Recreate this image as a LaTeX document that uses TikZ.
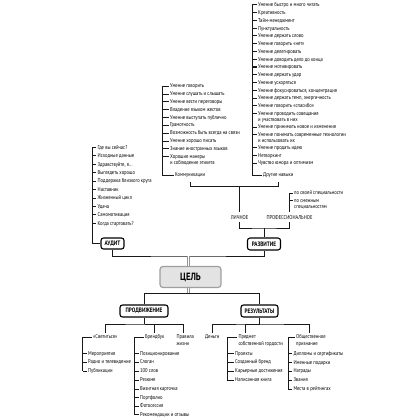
\documentclass[tikz,border=0pt]{standalone}
\usepackage{fontspec}
\setmainfont{PT Sans}[FakeStretch=0.82]
\newcommand\twolines[2]{\vtop{\hbox{#1}\hbox{#2}}}
\begin{document}
\begin{tikzpicture}[x=1pt,y=-1pt,
  itm/.style={anchor=base west, inner sep=0pt, font=\fontsize{5.6}{6.3}\selectfont},
  upc/.style={anchor=center, inner sep=0pt, font=\fontsize{5.6}{6.5}\selectfont},
  brk/.style={line width=0.7pt, black!90},
  tck/.style={line width=1pt, black!90},
  bx/.style={draw, line width=1.1pt, rounded corners=2.5pt, fill=white, inner sep=0pt,
             font=\bfseries\fontsize{6.4}{7}\selectfont, minimum height=12pt},
  goal/.style={draw=gray!75, fill=gray!22, line width=1.2pt, rounded corners=3pt,
             minimum width=61pt, minimum height=21pt, inner sep=0pt,
             font=\bfseries\fontsize{10.5}{12}\selectfont},
  dbl/.style={draw=gray!85, double=white, double distance=1.1pt, line width=0.6pt}]
\useasboundingbox (0,0) rectangle (420,420);
\fill[white] (0,0) rectangle (420,420);

% ---------- top right list: other skills ----------
\foreach \i/\yy/\txt in {1/5/{Умение быстро и много читать},2/12.75/{Креативность},
  3/20.5/{Тайм-менеджмент},4/28.25/{Пунктуальность},5/36/{Умение держать слово},
  6/43.75/{Умение говорить «нет»},7/51.5/{Умение делегировать},
  8/59.25/{Умение доводить дело до конца},9/67/{Умение мотивировать},
  10/74.75/{Умение держать удар},11/82.5/{Умение ускоряться},
  12/90.25/{Умение фокусироваться, концентрация},13/98/{Умение держать темп, энергичность},
  14/105.75/{Умение говорить «спасибо»},15/113.5/{\twolines{Умение проводить совещания}{и участвовать в них}},
  16/127/{Умение принимать новое и изменения},
  17/134.75/{\twolines{Умение понимать современные технологии}{и использовать их}},
  18/147.5/{Умение продать идею},19/155.25/{Нетворкинг},20/163/{Чувство юмора и оптимизм}}{
  \node[itm] (a\i) at (258,\yy+1.8) {\txt};
  \draw[tck] ([xshift=-1.5pt,yshift=1.8pt]a\i.base west) -- ++(-4.5,0);
}
\node[itm] (dn) at (263,176.8) {Другие навыки};
\draw[brk] ([xshift=-6pt,yshift=1.8pt]a1.base west) |- ([xshift=-1.5pt,yshift=1.8pt]dn.base west);

% ---------- middle list: communications ----------
\foreach \i/\yy/\txt in {1/86/{Умение говорить},2/94/{Умение слушать и слышать},
  3/101.75/{Умение вести переговоры},4/109.5/{Владение языком жестов},
  5/117.3/{Умение выступать публично},6/125/{Грамотность},
  7/133/{Возможность быть всегда на связи},8/141/{Умение хорошо писать},
  9/148.7/{Знание иностранных языков},10/156.5/{\twolines{Хорошие манеры}{и соблюдение этикета}}}{
  \node[itm] (m\i) at (170,\yy+1.8) {\txt};
  \draw[tck] ([xshift=-1.5pt,yshift=1.8pt]m\i.base west) -- ++(-6.5,0);
}
\node[itm] (km) at (175,176.8) {Коммуникации};
\draw[brk] ([xshift=-8pt,yshift=1.8pt]m1.base west) |- ([xshift=-1.5pt,yshift=1.8pt]km.base west);

% ---------- personal / professional ----------
\node[upc] (lich) at (239.5,217.5) {ЛИЧНОЕ};
\node[upc] (prof) at (289.5,217.5) {ПРОФЕССИОНАЛЬНОЕ};
\node[itm] (s1) at (294,194.8) {по своей специальности};
\node[itm] (s2) at (294,202.5) {\twolines{по смежным}{специальностям}};
\coordinate (bar1) at (239.5,186.5);
\draw[brk] ([yshift=-3.5pt]km.south) |- (bar1) -| ([yshift=-3.5pt]dn.south);
\draw[brk] (bar1) -- ([yshift=3pt]lich.north);
\draw[brk] ([yshift=3pt]prof.north) |- ([xshift=-1.5pt,yshift=1.8pt]s1.base west);
\draw[tck] ([xshift=-1.5pt,yshift=1.8pt]s2.base west) -- ++(-3.5,0);

\node[bx, minimum width=33pt] (razv) at (264,244) {РАЗВИТИЕ};
\coordinate (bar2) at (264,228);
\draw[brk] ([yshift=-2.5pt]lich.south) |- (bar2) -| ([yshift=-2.5pt]prof.south);
\draw[brk] (bar2) -- (razv.north);

% ---------- audit list ----------
\foreach \i/\yy/\txt in {1/147.3/{Где вы сейчас?},2/155.7/{Исходные данные},
  3/164.2/{Здравствуйте, я...},4/172.6/{Выглядеть хорошо},
  5/181.1/{Поддержка близкого круга},6/189.5/{Наставник},7/198/{Жизненный цикл},
  8/206.4/{Удача},9/214.8/{Самомотивация},10/223.3/{Когда стартовать?}}{
  \node[itm] (b\i) at (97.5,\yy+1.8) {\txt};
  \draw[tck] ([xshift=-1.5pt,yshift=1.8pt]b\i.base west) -- ++(-3.5,0);
}
\node[bx, minimum width=23pt, minimum height=11pt] (aud) at (112.5,243.5) {АУДИТ};
\draw[brk] ([xshift=-5pt,yshift=1.8pt]b1.base west) |- (aud.west);

% ---------- goal ----------
\node[goal] (goal) at (190.5,277) {ЦЕЛЬ};
\coordinate (bar3) at (188.5,256);
\draw[brk] (aud.south) |- (bar3) -| (razv.south);
\draw[dbl] (bar3) -- (bar3 |- goal.north);

\node[bx, minimum width=48pt] (prod) at (144,311) {ПРОДВИЖЕНИЕ};
\node[bx, minimum width=37pt] (res) at (259.5,311) {РЕЗУЛЬТАТЫ};
\coordinate (bar4) at (188.5,293);
\draw[dbl] (bar4 |- goal.south) -- (bar4);
\draw[brk] (bar4) -| (prod.north);
\draw[brk] (bar4) -| (res.north);

% ---------- promotion ----------
\node[itm] (svet) at (93,338.8) {«Светиться»};
\node[itm] (brand) at (145,338.8) {Брендбук};
\node[itm] (prav) at (176.5,338.8) {\twolines{Правила}{жизни}};
\coordinate (bar5) at (145,324);
\draw[brk] (prod.south) -- (prod.south |- bar5);
\draw[brk] ([yshift=2pt]svet.north) |- (bar5) -| ([yshift=2pt]brand.north);
\draw[brk] (bar5) -| ([xshift=6.5pt,yshift=2pt]prav.north west);

\foreach \i/\yy/\txt in {1/353.3/{Мероприятия},2/362/{Радио и телевидение},3/371/{Публикации}}{
  \node[itm] (c\i) at (88,\yy+1.8) {\txt};
  \draw[tck] ([xshift=-1.5pt,yshift=1.8pt]c\i.base west) -- ++(-3.8,0);
}
\draw[brk] ([xshift=-1.5pt,yshift=1.8pt]svet.base west) -| ([xshift=-5.3pt,yshift=1.8pt]c3.base west);

\foreach \i/\yy/\txt in {1/353.3/{Позиционирование},2/362/{Слоган},3/371/{100 слов},
  4/380/{Резюме},5/389/{Визитная карточка},6/397.7/{Портфолио},7/406/{Фотосессия},
  8/414.3/{Рекомендации и отзывы}}{
  \node[itm] (d\i) at (140,\yy+1.8) {\txt};
  \draw[tck] ([xshift=-1.5pt,yshift=1.8pt]d\i.base west) -- ++(-4.5,0);
}
\draw[brk] ([xshift=-1.5pt,yshift=1.8pt]brand.base west) -| ([xshift=-6pt,yshift=1.8pt]d8.base west);

% ---------- results ----------
\node[itm] (den) at (205,338.8) {Деньги};
\node[itm] (pred) at (238.3,338.8) {\twolines{Предмет}{собственной гордости}};
\node[itm] (obs) at (296,338.8) {\twolines{Общественное}{признание}};
\coordinate (bar6) at (259.5,324);
\draw[brk] (res.south) -- (res.south |- bar6);
\draw[brk] ([yshift=2pt]den.north) |- (bar6) -| ([xshift=13pt,yshift=2pt]obs.north west);
\draw[brk] (bar6) -| ([xshift=6.7pt,yshift=2pt]pred.north west);

\foreach \i/\yy/\txt in {1/353.3/{Проекты},2/362/{Созданный бренд},
  3/371/{Карьерные достижения},4/380/{Написанная книга}}{
  \node[itm] (e\i) at (235,\yy+1.8) {\txt};
  \draw[tck] ([xshift=-1.5pt,yshift=1.8pt]e\i.base west) -- ++(-6.2,0);
}
\draw[brk] ([xshift=-1.5pt,yshift=1.8pt]pred.base west) -| ([xshift=-7.7pt,yshift=1.8pt]e4.base west);

\foreach \i/\yy/\txt in {1/353.3/{Дипломы и сертификаты},2/362.3/{Именные подарки},
  3/371/{Награды},4/380/{Звания},5/389/{Места в рейтингах}}{
  \node[itm] (f\i) at (293.3,\yy+1.8) {\txt};
  \draw[tck] ([xshift=-1.5pt,yshift=1.8pt]f\i.base west) -- ++(-3.5,0);
}
\draw[brk] ([xshift=-1.5pt,yshift=1.8pt]obs.base west) -| ([xshift=-5pt,yshift=1.8pt]f5.base west);
\end{tikzpicture}
\end{document}
